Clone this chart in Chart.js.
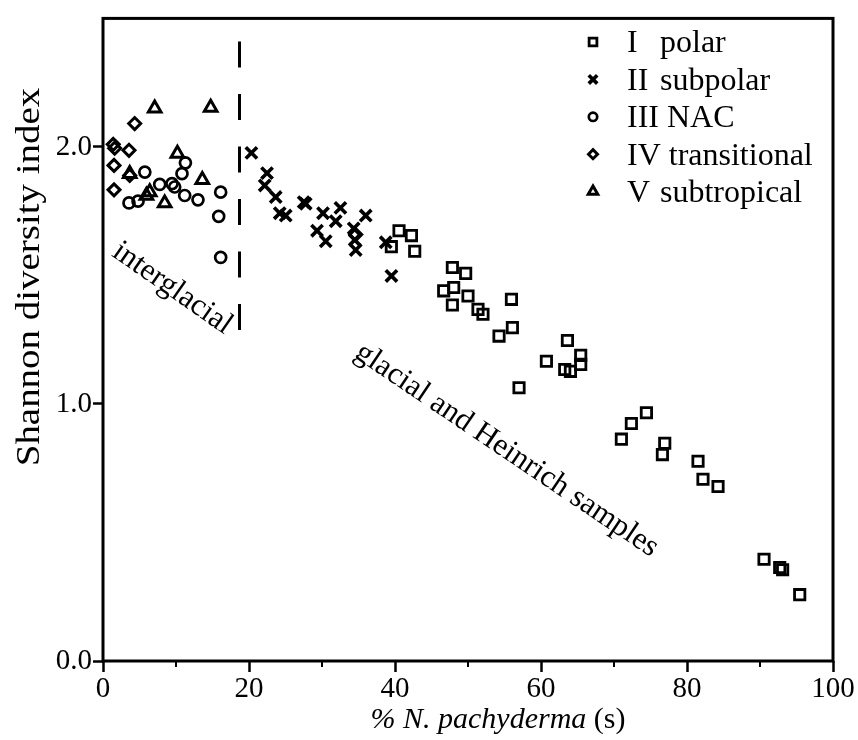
<!DOCTYPE html>
<html><head><meta charset="utf-8">
<script src="https://cdn.jsdelivr.net/npm/chart.js@4.4.1/dist/chart.umd.min.js"></script>
<style>html,body{margin:0;padding:0;background:#fff}</style>
</head><body>
<canvas id="c" width="858" height="740"></canvas>
<script>
// ---- data ----
const seriesNames = ['I', 'II', 'III', 'IV', 'V'];
const seriesLabels = ['polar', 'subpolar', 'NAC', 'transitional', 'subtropical'];

const polarX = [40.55, 42.25, 42.70, 39.50, 47.86, 49.68, 46.67, 48.04, 47.86, 50.00, 51.37, 52.05, 55.95, 54.25, 56.08, 63.62, 60.74, 65.44, 65.44, 63.25, 64.03, 56.99, 74.44, 72.38, 71.01, 76.95, 76.63, 81.51, 82.19, 84.25, 90.55, 92.70, 93.10, 95.44];
const polarY = [1.674, 1.655, 1.594, 1.612, 1.531, 1.508, 1.440, 1.453, 1.385, 1.420, 1.368, 1.349, 1.407, 1.264, 1.297, 1.247, 1.166, 1.189, 1.154, 1.134, 1.127, 1.063, 0.966, 0.924, 0.863, 0.847, 0.803, 0.777, 0.707, 0.679, 0.396, 0.364, 0.355, 0.258];

const subpolarX = [20.33, 22.47, 22.15, 23.66, 24.21, 25.03, 27.49, 27.77, 30.14, 32.52, 31.88, 29.32, 30.51, 34.34, 35.99, 34.48, 34.62, 38.73, 39.51];
const subpolarY = [1.977, 1.898, 1.850, 1.805, 1.742, 1.733, 1.785, 1.779, 1.742, 1.763, 1.711, 1.674, 1.633, 1.683, 1.733, 1.638, 1.599, 1.629, 1.498];

const nacX = [5.73, 11.29, 10.82, 7.77, 9.45, 9.82, 11.19, 13.01, 16.12, 15.85, 16.12, 3.56, 4.80];
const nacY = [1.902, 1.938, 1.896, 1.854, 1.857, 1.844, 1.811, 1.794, 1.824, 1.730, 1.570, 1.782, 1.789];

const transX = [4.34, 1.40, 1.60, 3.56, 1.51, 3.66, 1.51, 34.62];
const transY = [2.091, 2.010, 1.995, 1.987, 1.928, 1.889, 1.833, 1.659];

const subtropX = [7.08, 14.75, 10.19, 13.60, 8.45, 5.95, 6.40, 3.66];
const subtropY = [2.150, 2.153, 1.974, 1.872, 1.781, 1.811, 1.824, 1.895];

const dividerX = [18.7, 18.7];
const dividerY = [2.41, 1.27];

const xMajorTicks = [0, 20, 40, 60, 80, 100];
const xMinorTicks = [10, 30, 50, 70, 90];
const yTicks = [0, 1, 2];

const xTitleItalic = '% N. pachyderma';
const xTitleUpright = ' (s)';
const yTitle = 'Shannon diversity index';
const notes = [
  { text: 'interglacial', x: 9.5, y: 1.45, angle: 35 },
  { text: 'glacial and Heinrich samples', x: 55.3, y: 0.82, angle: 34 }
];

// ---- chart ----
const SERIF = '"Liberation Serif", "DejaVu Serif", serif';
const pts = (xs, ys) => xs.map((v, i) => ({ x: v, y: ys[i] }));
const styles = [
  { pointStyle: 'rect', radius: 7.3, borderWidth: 2.8, legendRadius: 5.5 },
  { pointStyle: 'crossRot', radius: 8, borderWidth: 3.6, legendRadius: 6 },
  { pointStyle: 'circle', radius: 5.5, borderWidth: 2.7, legendRadius: 4.2 },
  { pointStyle: 'rectRot', radius: 6, borderWidth: 3, legendRadius: 4.5 },
  { pointStyle: 'triangle', radius: 7.3, borderWidth: 3, legendRadius: 5.5 }
];
const seriesData = [pts(polarX, polarY), pts(subpolarX, subpolarY), pts(nacX, nacY), pts(transX, transY), pts(subtropX, subtropY)];

const datasets = seriesData.map((d, i) => ({
  type: 'scatter',
  label: seriesNames[i] + ' ' + seriesLabels[i],
  data: d,
  pointStyle: styles[i].pointStyle,
  pointRadius: styles[i].radius,
  pointHoverRadius: styles[i].radius,
  pointBorderWidth: styles[i].borderWidth,
  borderColor: '#000',
  backgroundColor: 'rgba(0,0,0,0)'
}));
datasets.push({
  type: 'line',
  label: 'divider',
  data: pts(dividerX, dividerY),
  borderColor: '#000',
  borderWidth: 3,
  borderDash: [26, 26.5],
  pointRadius: 0,
  fill: false
});

const extras = {
  id: 'extras',
  afterDraw(chart) {
    const { ctx, chartArea: a, scales: { x, y } } = chart;
    ctx.save();
    ctx.strokeStyle = '#000';
    ctx.fillStyle = '#000';
    // frame
    ctx.lineWidth = 3;
    ctx.strokeRect(a.left, a.top, a.right - a.left, a.bottom - a.top);
    // minor ticks
    ctx.lineWidth = 2;
    xMinorTicks.forEach(v => {
      const px = x.getPixelForValue(v);
      ctx.beginPath(); ctx.moveTo(px, a.bottom); ctx.lineTo(px, a.bottom + 6); ctx.stroke();
    });
    // legend
    const lx = 593, textX = 627, nameX = 660, ly0 = 42, dy = 37.4;
    ctx.font = '32px ' + SERIF;
    ctx.textBaseline = 'middle';
    ctx.textAlign = 'left';
    seriesNames.forEach((n, i) => {
      const yy = ly0 + i * dy;
      ctx.save();
      ctx.strokeStyle = '#000';
      ctx.fillStyle = 'rgba(0,0,0,0)';
      ctx.lineWidth = styles[i].borderWidth;
      Chart.helpers.drawPoint(ctx, { pointStyle: styles[i].pointStyle, radius: styles[i].legendRadius, rotation: 0, borderWidth: styles[i].borderWidth }, lx, yy);
      ctx.restore();
      ctx.fillStyle = '#000';
      ctx.fillText(n, textX, yy + 2);
      const w = ctx.measureText(n + ' ').width;
      ctx.fillText(seriesLabels[i], Math.max(nameX, textX + w), yy + 2);
    });
    // y title (scan is stretched vertically, so stretch along text direction)
    ctx.save();
    ctx.translate(30, 277);
    ctx.rotate(-Math.PI / 2);
    ctx.scale(1.18, 1);
    ctx.textAlign = 'center';
    ctx.textBaseline = 'middle';
    ctx.font = '33px ' + SERIF;
    ctx.fillText(yTitle, 0, 0);
    ctx.restore();
    // x title
    ctx.textBaseline = 'alphabetic';
    ctx.textAlign = 'left';
    ctx.font = 'italic 30px ' + SERIF;
    const w1 = ctx.measureText(xTitleItalic).width;
    ctx.font = '30px ' + SERIF;
    const w2 = ctx.measureText(xTitleUpright).width;
    const sx = 498 - (w1 + w2) / 2;
    ctx.font = 'italic 30px ' + SERIF;
    ctx.fillText(xTitleItalic, sx, 728);
    ctx.font = '30px ' + SERIF;
    ctx.fillText(xTitleUpright, sx + w1, 728);
    // annotations
    notes.forEach(n => {
      ctx.save();
      ctx.translate(x.getPixelForValue(n.x), y.getPixelForValue(n.y));
      ctx.rotate(n.angle * Math.PI / 180);
      ctx.font = '31px ' + SERIF;
      ctx.textAlign = 'center';
      ctx.textBaseline = 'middle';
      ctx.fillText(n.text, 0, 0);
      ctx.restore();
    });
    ctx.restore();
  }
};

new Chart(document.getElementById('c'), {
  data: { datasets },
  options: {
    responsive: false,
    animation: false,
    events: [],
    layout: { padding: { top: 10, right: 25, left: 0, bottom: 0 } },
    plugins: { legend: { display: false }, tooltip: { enabled: false } },
    scales: {
      x: {
        type: 'linear', min: 0, max: 100,
        afterBuildTicks: s => { s.ticks = xMajorTicks.map(v => ({ value: v })); },
        afterFit: s => { s.height = 79; },
        border: { display: false },
        grid: { drawOnChartArea: false, drawTicks: true, tickLength: 11, tickWidth: 2.5, tickColor: '#000' },
        ticks: { color: '#000', padding: 0, font: { family: SERIF, size: 29 }, maxRotation: 0, autoSkip: false, callback: v => String(v) }
      },
      y: {
        type: 'linear', min: 0, max: 2.5,
        afterBuildTicks: s => { s.ticks = yTicks.map(v => ({ value: v })); },
        afterFit: s => { s.width = 103; },
        border: { display: false },
        grid: { drawOnChartArea: false, drawTicks: true, tickLength: 10, tickWidth: 2.5, tickColor: '#000' },
        ticks: { color: '#000', padding: 1, font: { family: SERIF, size: 29 }, callback: v => Number(v).toFixed(1) }
      }
    }
  },
  plugins: [extras]
});
</script>
</body></html>
